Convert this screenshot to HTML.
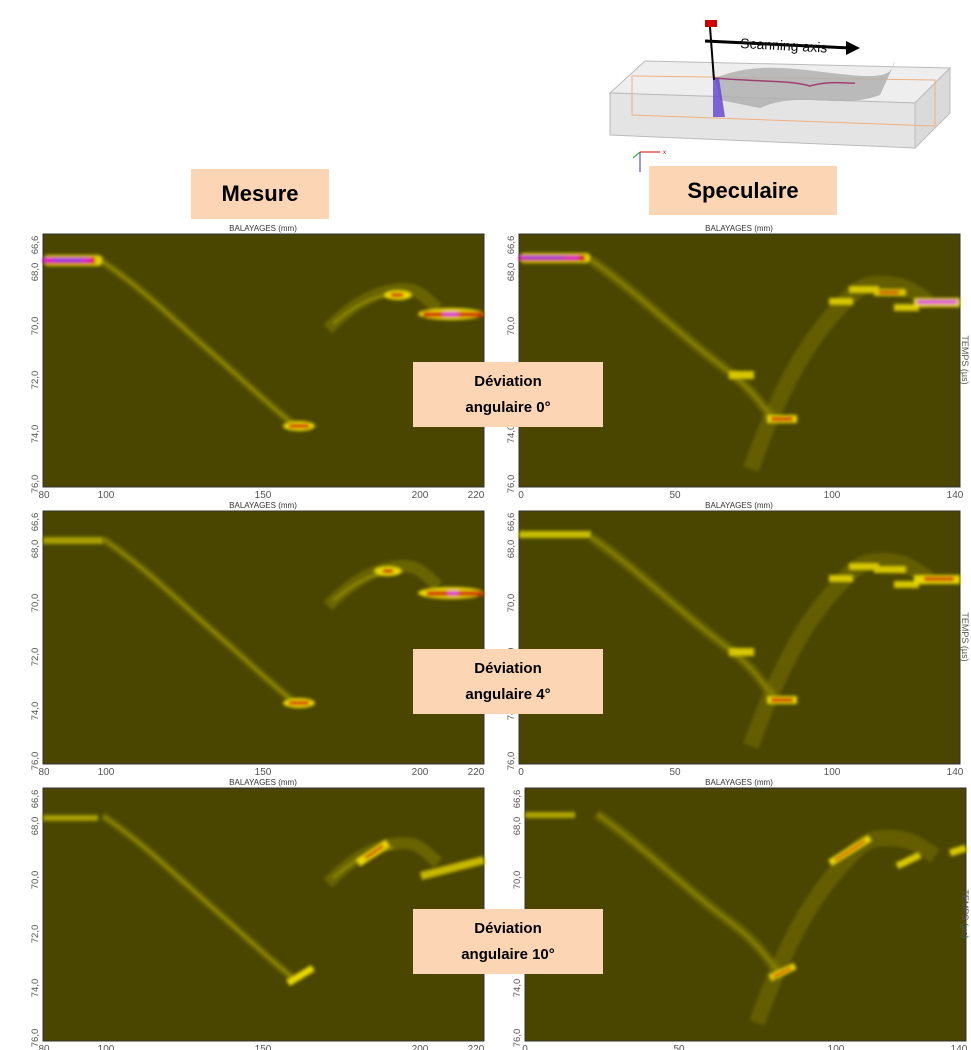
<!DOCTYPE html>
<html><head><meta charset="utf-8"><style>
body{margin:0;background:#fff;width:971px;height:1050px;overflow:hidden;position:relative;font-family:"Liberation Sans",sans-serif}
.box{position:absolute;background:#fcd5b5;display:flex;align-items:center;justify-content:center;text-align:center;font-weight:bold;color:#000}
.dev{font-size:15px;line-height:26px}
</style></head><body>
<svg width="971" height="1050" style="position:absolute;left:0;top:0" font-family="Liberation Sans, sans-serif">
<defs>
<filter id="bl" x="-20%" y="-20%" width="140%" height="140%"><feGaussianBlur stdDeviation="1.6"/></filter>
<g id="Lbase">
<rect x="0" y="0" width="441" height="253" fill="#4a4600" stroke="#333" stroke-width="1"/>
<g filter="url(#bl)">
<path d="M60,28 C100,55 130,85 170,120 S225,170 250,190" stroke="#8a8300" stroke-width="8" fill="none" opacity=".45"/>
<path d="M60,28 C100,55 130,85 170,120 S225,170 250,190" stroke="#b8b000" stroke-width="1.6" fill="none" opacity=".8"/>
<path d="M285,95 C305,75 325,60 350,56 S380,62 395,75" stroke="#9a9200" stroke-width="12" fill="none" opacity=".4"/>
<path d="M290,90 C310,72 330,62 350,60" stroke="#c8c010" stroke-width="1.5" fill="none" opacity=".7"/>
</g>
</g>
<g id="Rbase">
<rect x="0" y="0" width="441" height="253" fill="#4a4600" stroke="#333" stroke-width="1"/>
<g filter="url(#bl)">
<path d="M72,26 C120,60 160,100 200,130 S240,170 255,185" stroke="#8a8300" stroke-width="10" fill="none" opacity=".45"/>
<path d="M72,26 C120,60 160,100 200,130 S240,170 255,185" stroke="#b0a800" stroke-width="1.6" fill="none" opacity=".8"/>
<path d="M232,235 C255,170 280,120 310,85 S345,50 365,50 S395,58 410,68" stroke="#8a8300" stroke-width="16" fill="none" opacity=".4"/>
</g>
</g>
</defs>

<g>
<polygon points="645,61 950,68 915,103 610,93" fill="#eeeeee" stroke="#bbb"/>
<polygon points="610,93 915,103 915,148 610,135" fill="#e4e4e4" stroke="#bbb"/>
<polygon points="915,103 950,68 950,113 915,148" fill="#dadada" stroke="#bbb"/>
<polygon points="632,76 935,80 935,126 632,115" fill="none" stroke="#f0b080" stroke-width="1"/>
<path d="M715,78 C760,60 800,70 850,75 S890,65 895,62 L880,95 C840,110 800,90 760,108 L720,100 Z" fill="#b0b0b0" opacity=".85"/>
<path d="M714,78 C760,82 790,80 810,86 C830,80 850,84 855,83" stroke="#a04070" stroke-width="1.5" fill="none"/>
<polygon points="713,78 719,78 725,117 713,117" fill="#6040d0" opacity=".8"/>
<line x1="710" y1="27" x2="714" y2="80" stroke="#000" stroke-width="2"/>
<rect x="705" y="20" width="12" height="7" fill="#d00000"/>
<line x1="705" y1="41" x2="850" y2="48" stroke="#000" stroke-width="3"/>
<polygon points="860,48 846,41 846,55" fill="#000"/>
<text x="740" y="48" font-size="14" fill="#111" transform="rotate(3 740 48)">Scanning axis</text>
<line x1="640" y1="152" x2="660" y2="152" stroke="#d00" stroke-width="1"/>
<text x="663" y="154" font-size="6" fill="#d00">x</text>
<line x1="640" y1="152" x2="640" y2="172" stroke="#33c" stroke-width="1"/>
<line x1="640" y1="152" x2="633" y2="158" stroke="#2a2" stroke-width="1"/>
</g>

<g font-size="8" fill="#333" text-anchor="middle">
<text x="263" y="231">BALAYAGES (mm)</text>
<text x="739" y="231">BALAYAGES (mm)</text>
<text x="263" y="508">BALAYAGES (mm)</text>
<text x="739" y="508">BALAYAGES (mm)</text>
<text x="263" y="785">BALAYAGES (mm)</text>
<text x="739" y="785">BALAYAGES (mm)</text>
</g>

<g transform="translate(43,234)"><use href="#Lbase"/>
<g filter="url(#bl)"><rect x="0" y="21" width="60" height="11" rx="5" fill="#e0d000"/><rect x="0" y="23" width="52" height="7" fill="#d01010"/><rect x="0" y="24" width="48" height="4" fill="#e010e0"/><rect x="10" y="25" width="30" height="2" fill="#3050ff"/>
<ellipse cx="256" cy="192" rx="16" ry="5" fill="#e8d800"/><rect x="246" y="190" width="20" height="4" fill="#d02000"/>
<ellipse cx="355" cy="61" rx="14" ry="5" fill="#e8d800"/><rect x="348" y="59" width="12" height="4" fill="#d02000"/>
<ellipse cx="408" cy="80" rx="33" ry="6" fill="#e8d800"/><rect x="380" y="78" width="60" height="5" fill="#d02000"/><rect x="400" y="78" width="15" height="4" fill="#e010e0"/></g>
</g>
<g transform="translate(519,234)"><use href="#Rbase"/>
<g filter="url(#bl)"><rect x="0" y="19" width="72" height="10" rx="5" fill="#e0d000"/><rect x="0" y="21" width="66" height="6" fill="#d01010"/><rect x="0" y="22" width="60" height="3" fill="#e010e0"/><rect x="5" y="23" width="40" height="1.5" fill="#3050ff"/>
<rect x="210" y="137" width="25" height="8" fill="#d8c800"/>
<rect x="248" y="181" width="30" height="8" fill="#e8d800"/><rect x="252" y="183" width="22" height="4" fill="#d02000"/>
<rect x="310" y="64" width="24" height="7" fill="#d8c800"/><rect x="330" y="52" width="30" height="7" fill="#d8c800"/><rect x="355" y="55" width="32" height="7" fill="#d8c800"/><rect x="360" y="57" width="20" height="3" fill="#d02000"/>
<rect x="375" y="70" width="25" height="7" fill="#d8c800"/><rect x="395" y="64" width="46" height="9" fill="#e8d800"/><rect x="398" y="66" width="40" height="4" fill="#e010e0"/></g>
</g>

<g transform="translate(43,511)"><use href="#Lbase"/>
<g filter="url(#bl)"><rect x="0" y="26" width="60" height="7" fill="#a8a000"/>
<ellipse cx="256" cy="192" rx="16" ry="5" fill="#e8d800"/><rect x="246" y="190" width="20" height="4" fill="#d02000"/>
<ellipse cx="345" cy="60" rx="14" ry="5" fill="#e8d800"/><rect x="340" y="58" width="10" height="4" fill="#d02000"/>
<ellipse cx="408" cy="82" rx="33" ry="6" fill="#e8d800"/><rect x="384" y="80" width="56" height="5" fill="#d02000"/><rect x="405" y="80" width="10" height="4" fill="#e010e0"/></g>
</g>
<g transform="translate(519,511)"><use href="#Rbase"/>
<g filter="url(#bl)"><rect x="0" y="20" width="72" height="7" fill="#c8c000"/>
<rect x="210" y="137" width="25" height="8" fill="#d8c800"/>
<rect x="248" y="185" width="30" height="8" fill="#e8d800"/><rect x="252" y="187" width="22" height="4" fill="#d02000"/>
<rect x="310" y="64" width="24" height="7" fill="#d8c800"/><rect x="330" y="52" width="30" height="7" fill="#d8c800"/><rect x="355" y="55" width="32" height="7" fill="#d8c800"/>
<rect x="375" y="70" width="25" height="7" fill="#d8c800"/><rect x="395" y="64" width="46" height="9" fill="#e8d800"/><rect x="405" y="66" width="30" height="4" fill="#d02000"/></g>
</g>

<g transform="translate(43,788)"><use href="#Lbase"/>
<g filter="url(#bl)"><rect x="0" y="27" width="55" height="6" fill="#a8a000"/>
<path d="M245,195 L270,180" stroke="#e8d800" stroke-width="7"/>
<path d="M315,75 L345,55" stroke="#e8d800" stroke-width="8"/><path d="M322,70 L340,58" stroke="#d02000" stroke-width="3"/>
<path d="M378,88 L441,72" stroke="#c8b800" stroke-width="8"/></g>
</g>
<g transform="translate(525,788)"><use href="#Rbase"/>
<g filter="url(#bl)"><rect x="0" y="24" width="50" height="6" fill="#b0a800"/>
<path d="M245,190 L270,178" stroke="#e8d800" stroke-width="7"/><path d="M248,189 L266,180" stroke="#d02000" stroke-width="2.5"/>
<path d="M305,75 L345,50" stroke="#e8d800" stroke-width="7"/><path d="M310,72 L340,53" stroke="#d02000" stroke-width="2.5"/>
<path d="M372,78 L395,67" stroke="#d8c800" stroke-width="7"/><path d="M425,65 L441,60" stroke="#d8c800" stroke-width="7"/></g>
</g>

<g font-size="9.5" fill="#555" text-anchor="middle">
<g id="yl">
<text transform="translate(38,245) rotate(-90)">66,6</text>
<text transform="translate(38,272) rotate(-90)">68,0</text>
<text transform="translate(38,326) rotate(-90)">70,0</text>
<text transform="translate(38,380) rotate(-90)">72,0</text>
<text transform="translate(38,434) rotate(-90)">74,0</text>
<text transform="translate(38,484) rotate(-90)">76,0</text>
</g>
<use href="#yl" x="476"/>
<use href="#yl" y="277"/><use href="#yl" x="476" y="277"/>
<use href="#yl" y="554"/><use href="#yl" x="482" y="554"/>
<g id="xl" font-size="10">
<text x="44" y="498">80</text><text x="106" y="498">100</text><text x="263" y="498">150</text><text x="420" y="498">200</text><text x="476" y="498">220</text>
</g>
<use href="#xl" y="277"/><use href="#xl" y="554"/>
<g id="xr" font-size="10">
<text x="521" y="498">0</text><text x="675" y="498">50</text><text x="832" y="498">100</text><text x="955" y="498">140</text>
</g>
<use href="#xr" y="277"/><use href="#xr" x="4" y="554"/>
<text transform="translate(962,360) rotate(90)" font-size="9">TEMPS (µs)</text>
<text transform="translate(962,637) rotate(90)" font-size="9">TEMPS (µs)</text>
<text transform="translate(962,914) rotate(90)" font-size="9">TEMPS (µs)</text>
</g>
</svg>
<div class="box" style="left:191px;top:169px;width:138px;height:50px;font-size:22px">Mesure</div>
<div class="box" style="left:649px;top:166px;width:188px;height:49px;font-size:22px">Speculaire</div>
<div class="box dev" style="left:413px;top:362px;width:190px;height:65px">Déviation<br>angulaire 0°</div>
<div class="box dev" style="left:413px;top:649px;width:190px;height:65px">Déviation<br>angulaire 4°</div>
<div class="box dev" style="left:413px;top:909px;width:190px;height:65px">Déviation<br>angulaire 10°</div>
</body></html>
